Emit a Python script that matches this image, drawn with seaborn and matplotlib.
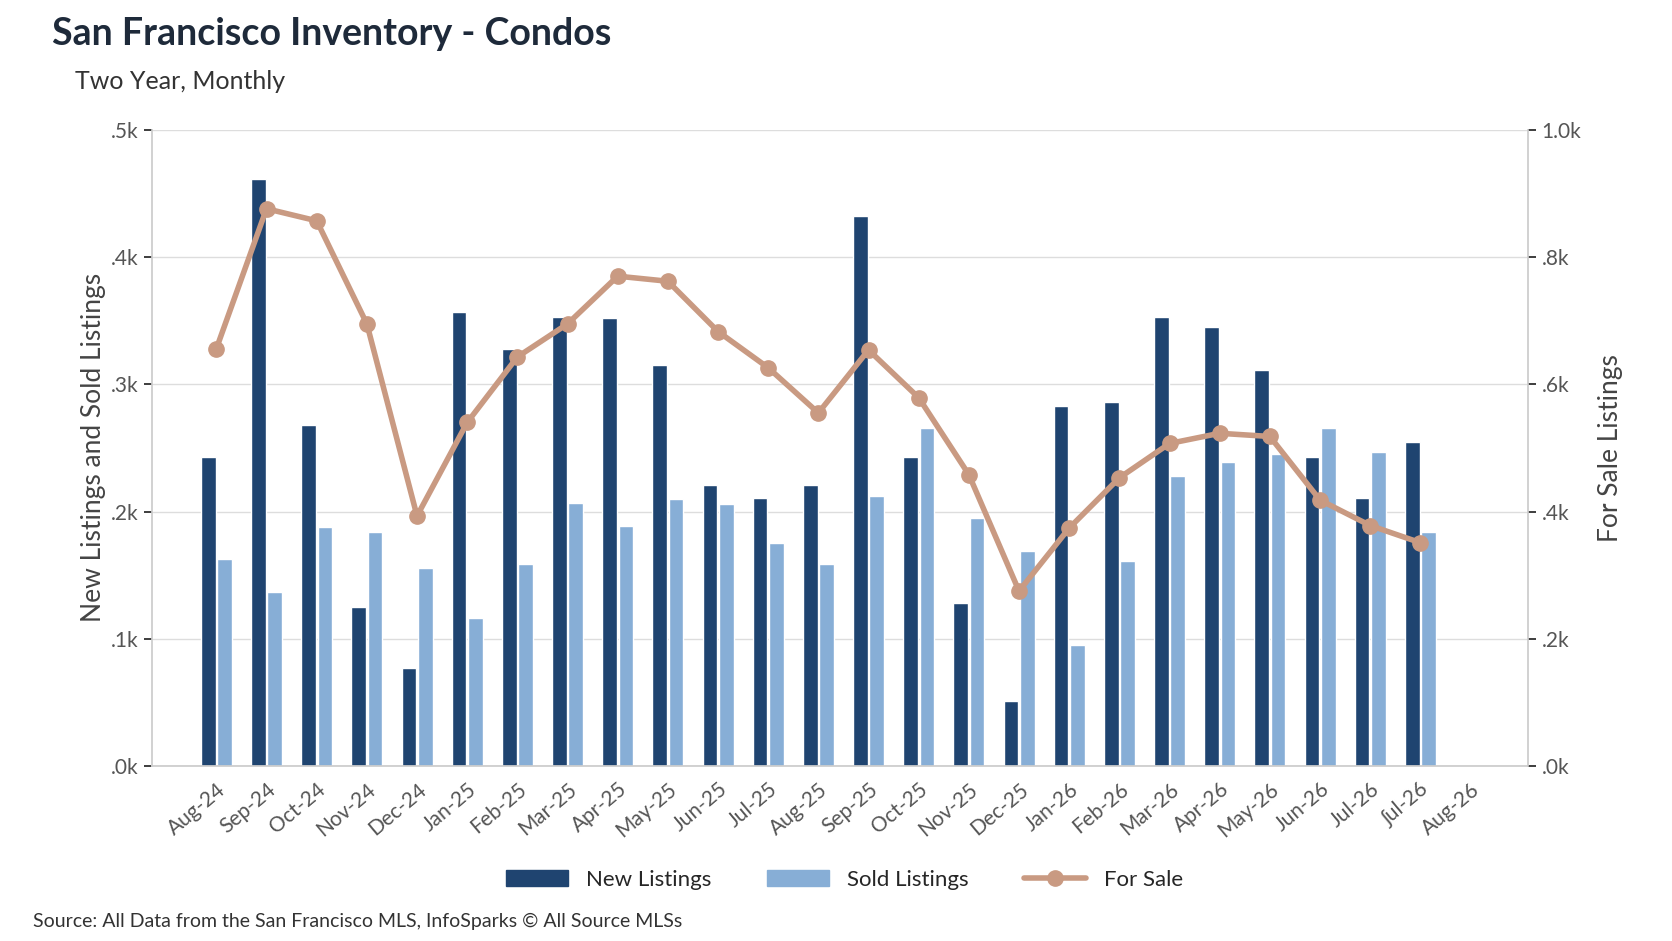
import numpy as np
import pandas as pd
import seaborn as sns
import matplotlib.pyplot as plt

months = ['Aug-24', 'Sep-24', 'Oct-24', 'Nov-24', 'Dec-24', 'Jan-25', 'Feb-25', 'Mar-25', 'Apr-25',
          'May-25', 'Jun-25', 'Jul-25', 'Aug-25', 'Sep-25', 'Oct-25', 'Nov-25', 'Dec-25', 'Jan-26',
          'Feb-26', 'Mar-26', 'Apr-26', 'May-26', 'Jun-26', 'Jul-26', 'ʃul-26', 'Aug-26']
new_listings = [243, 461, 268, 125, 77, 357, 328, 353, 352, 315, 221, 211, 221, 432, 243, 128, 51,
                283, 286, 353, 345, 311, 243, 211, 255, np.nan]
sold_listings = [163, 137, 188, 184, 156, 116, 159, 207, 189, 210, 206, 175, 159, 212, 266, 195, 169,
                 95, 161, 228, 239, 245, 266, 247, 184, np.nan]
for_sale = [656, 876, 857, 695, 393, 540, 643, 695, 770, 762, 683, 626, 555, 654, 579, 458, 275,
            374, 453, 507, 523, 518, 418, 378, 351, np.nan]

sns.set_theme(style='white')
plt.rcParams['font.family'] = ['Lato', 'DejaVu Sans']

df = pd.DataFrame({'Month': months, 'New Listings': new_listings, 'Sold Listings': sold_listings})
long = df.melt(id_vars='Month', var_name='Type', value_name='Count')

fig = plt.figure(figsize=(16.72, 9.41), dpi=100)
ax = fig.add_axes([0.091, 0.186, 0.823, 0.676])
sns.barplot(data=long, x='Month', y='Count', hue='Type', order=months,
            palette={'New Listings': '#1f4470', 'Sold Listings': '#87aed6'},
            saturation=1, width=0.65, gap=0.1, ax=ax, legend=False)
ax.set_ylim(0, 500)
ax.set_yticks(np.arange(0, 501, 100))
ax.set_yticklabels(['.0k', '.1k', '.2k', '.3k', '.4k', '.5k'], color='#555555', fontsize=15)
ax.yaxis.grid(True, color='#dddddd', lw=1)
ax.set_axisbelow(True)
ax.set_xlabel('')
ax.set_ylabel('New Listings and Sold Listings', fontsize=19, color='#444444')
ax.tick_params(axis='x', labelsize=15, labelcolor='#555555', rotation=40)
for lab in ax.get_xticklabels():
    lab.set_ha('right')
    lab.set_rotation_mode('anchor')
for s in ['top', 'right']:
    ax.spines[s].set_visible(False)
for s in ['left', 'bottom']:
    ax.spines[s].set_color('#cccccc')

ax2 = ax.twinx()
ax2.plot(range(len(months)), for_sale, color='#c99a82', lw=4, marker='o', ms=11)
ax2.set_ylim(0, 1000)
ax2.set_yticks(np.arange(0, 1001, 200))
ax2.set_yticklabels(['.0k', '.2k', '.4k', '.6k', '.8k', '1.0k'], color='#555555', fontsize=15)
ax2.set_ylabel('For Sale Listings', fontsize=19, color='#444444', labelpad=12)
for s in ['top', 'left', 'bottom']:
    ax2.spines[s].set_visible(False)
ax2.spines['right'].set_color('#cccccc')
ax.set_xlim(-1.28, len(months) - 1 + 1.15)

handles = [plt.Rectangle((0, 0), 1, 1, color='#1f4470'),
           plt.Rectangle((0, 0), 1, 1, color='#87aed6'),
           plt.Line2D([], [], color='#c99a82', lw=4, marker='o', ms=11)]
fig.legend(handles, ['New Listings', 'Sold Listings', 'For Sale'], loc='center', ncol=3,
           bbox_to_anchor=(0.505, 0.065), frameon=False, fontsize=16, handlelength=2.8, columnspacing=2.5)

fig.text(0.031, 0.952, 'San Francisco Inventory - Condos', fontsize=27, fontweight='bold', color='#1e2a3a')
fig.text(0.045, 0.905, 'Two Year, Monthly', fontsize=18, color='#333333')
fig.text(0.02, 0.015, 'Source: All Data from the San Francisco MLS, InfoSparks © All Source MLSs',
         fontsize=14, color='#333333')

fig.savefig('out.png', dpi=100)
